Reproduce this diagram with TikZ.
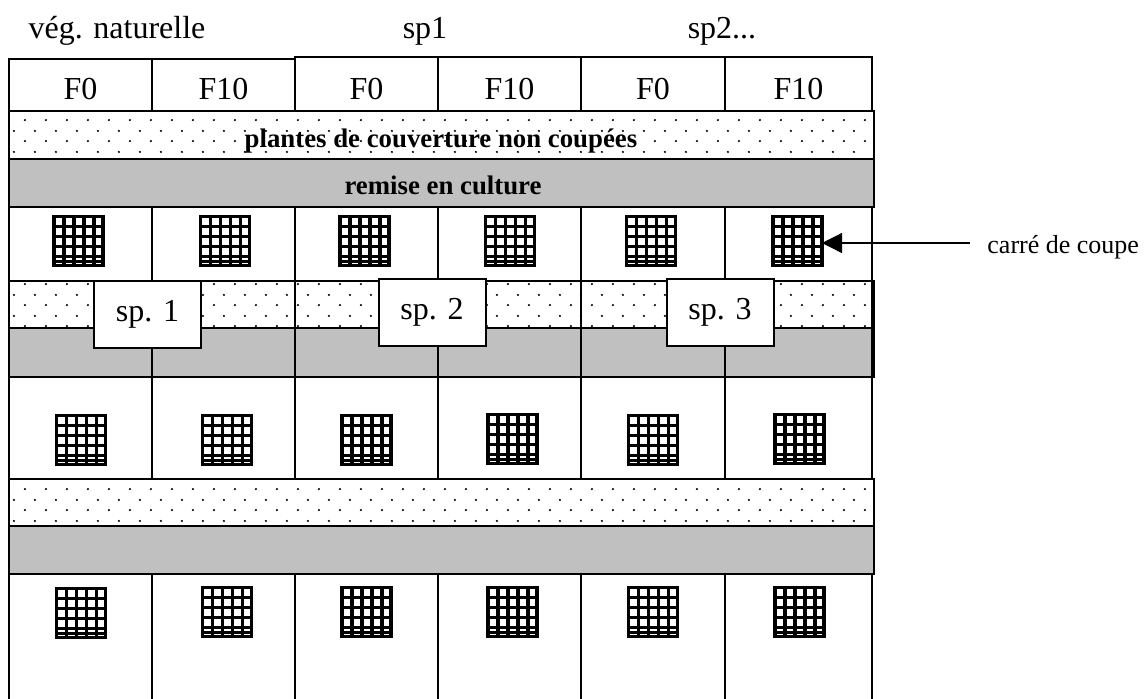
\documentclass[tikz,border=0pt]{standalone}
\usepackage{fontspec}
\setmainfont{Liberation Serif}
\usetikzlibrary{arrows.meta,patterns,positioning}
\usepackage{xcolor}
\definecolor{Silver}{RGB}{192,192,192}
\pgfdeclarepatternformonly{sparsedots}{\pgfpointorigin}{\pgfqpoint{10.25pt}{10.25pt}}{\pgfqpoint{10.25pt}{10.25pt}}{%
  \pgfpathcircle{\pgfqpoint{2pt}{2pt}}{0.6pt}%
  \pgfpathcircle{\pgfqpoint{7.125pt}{7.125pt}}{0.6pt}%
  \pgfusepath{fill}}
\tikzset{
  cell/.style={draw=black,line width=1.3pt},
  dotband/.style={draw=black,line width=1pt,pattern=sparsedots,pattern color=black},
  greyband/.style={draw=black,line width=1pt,fill=Silver},
  carre/.pic={
    \draw[line width=1.6pt] (-24.5,-24.5) rectangle (24.5,24.5);
    \foreach \d in {-14.5,-4.5,5.5,15.5}
      \draw[line width=1.8pt] (\d,-24.5) -- (\d,24.5) (-24.5,\d) -- (24.5,\d);
    \draw[line width=1.6pt] (-24.5,20.5) -- (24.5,20.5);
    \coordinate (-east) at (24.5,0);
  },
  bigtxt/.style={font=\fontsize{16}{19}\selectfont,inner sep=0pt},
  bandtxt/.style={font=\bfseries\fontsize{13.4}{16}\selectfont,inner sep=0pt},
  spbox/.style={rectangle,draw=black,fill=white,line width=1pt,minimum width=53.5pt,
                minimum height=33.5pt,inner sep=0pt,font=\fontsize{16}{19}\selectfont},
  fleche/.style={-{Triangle[length=10pt,width=10pt]},line width=0.65pt},
}
\begin{document}
\begin{tikzpicture}[x=0.5pt,y=-0.5pt]
  \clip (0,0) rectangle (1145,698);
  % en-tetes
  \node[bigtxt,anchor=base] (vegnat) at (117,38) {vég. naturelle};
  \node[bigtxt,anchor=base] (spun) at (425,38) {sp1};
  \node[bigtxt,anchor=base] (spdeux) at (722,38) {sp2...};
  % ligne F0 / F10
  \draw[cell] (9,59) rectangle (295,111);
  \draw[cell] (295,57) rectangle (872,111);
  \draw[cell] (152,59) -- (152,111) (438,57) -- (438,111) (581,57) -- (581,111) (725,57) -- (725,111);
  \node[bigtxt,anchor=base] (f1) at (80.5,99) {F0};
  \node[bigtxt,anchor=base] (f2) at (223.5,99) {F10};
  \node[bigtxt,anchor=base] (f3) at (366.5,99) {F0};
  \node[bigtxt,anchor=base] (f4) at (509.5,99) {F10};
  \node[bigtxt,anchor=base] (f5) at (653,99) {F0};
  \node[bigtxt,anchor=base] (f6) at (798.5,99) {F10};
  % bandes du haut
  \draw[dotband] (9,111) rectangle (874,159);
  \draw[greyband] (9,159) rectangle (874,207);
  \node[bandtxt,anchor=base] (plantes) at (441,147) {plantes de couverture non coupées};
  \node[bandtxt,anchor=base] (remise) at (443,194) {remise en culture};
  % rang 1
  \draw[cell] (9,207) rectangle (872,281);
  \draw[cell] (152,207) -- (152,281) (295,207) -- (295,281) (438,207) -- (438,281)
              (581,207) -- (581,281) (725,207) -- (725,281);
  % bande du milieu
  \draw[dotband] (9,281) rectangle (874,328);
  \draw[greyband] (9,328) rectangle (874,377);
  \draw[cell] (9,281) -- (9,377) (152,281) -- (152,377) (295,281) -- (295,377) (438,281) -- (438,377)
              (581,281) -- (581,377) (725,281) -- (725,377) (872,281) -- (872,377);
  % rang 2
  \draw[cell] (9,377) rectangle (872,479);
  \draw[cell] (152,377) -- (152,479) (295,377) -- (295,479) (438,377) -- (438,479)
              (581,377) -- (581,479) (725,377) -- (725,479);
  % bandes du bas
  \draw[dotband] (9,479) rectangle (874,526);
  \draw[greyband] (9,526) rectangle (874,574);
  % rang 3
  \draw[cell] (9,574) rectangle (872,710);
  \draw[cell] (152,574) -- (152,710) (295,574) -- (295,710) (438,574) -- (438,710)
              (581,574) -- (581,710) (725,574) -- (725,710);
  % carres de coupe
  \pic (q11) at (78.5,241) {carre};
  \pic (q12) at (225,241) {carre};
  \pic (q13) at (364.5,241) {carre};
  \pic (q14) at (510,241) {carre};
  \pic (q15) at (651,241) {carre};
  \pic (q16) at (797.5,241) {carre};
  \pic (q21) at (81,440) {carre};
  \pic (q22) at (227,440) {carre};
  \pic (q23) at (366.5,440) {carre};
  \pic (q24) at (512.5,439) {carre};
  \pic (q25) at (653,440) {carre};
  \pic (q26) at (799.5,439) {carre};
  \pic (q31) at (81,613) {carre};
  \pic (q32) at (227,612) {carre};
  \pic (q33) at (366.5,612) {carre};
  \pic (q34) at (512.5,612) {carre};
  \pic (q35) at (653,612) {carre};
  \pic (q36) at (799.5,612) {carre};
  % especes
  \node[spbox] (sp1box) at (147.5,314) {sp. 1};
  \node[spbox] (sp2box) at (432,312.5) {sp. 2};
  \node[spbox] (sp3box) at (720,312.5) {sp. 3};
  % legende
  \node[anchor=base west,font=\fontsize{13}{16}\selectfont,inner sep=0pt] (coupe) at (987,253) {carré de coupe};
  \coordinate (flechedebut) at (970,243);
  \draw[fleche] (flechedebut) -- (flechedebut -| q16-east);
\end{tikzpicture}
\end{document}
